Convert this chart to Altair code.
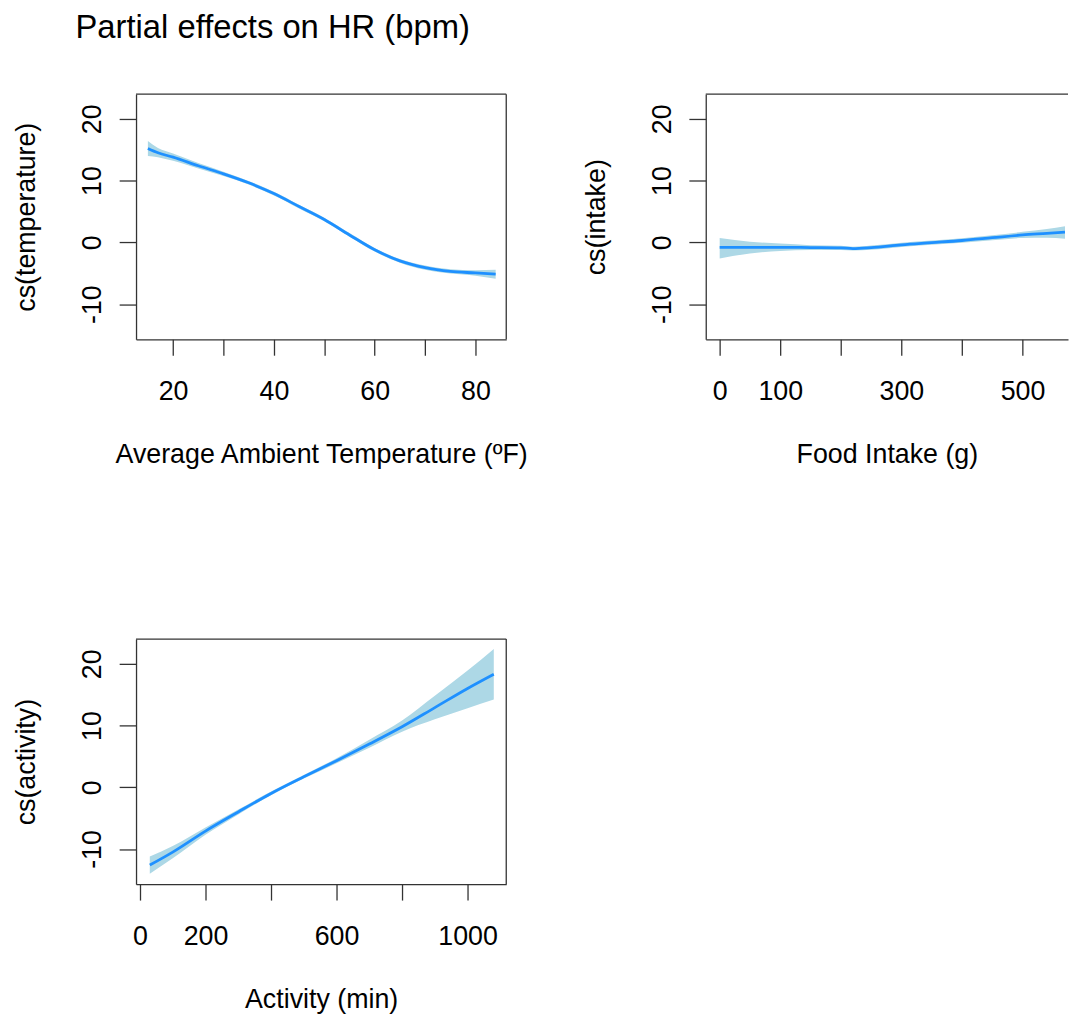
import altair as alt
import pandas as pd

# ---------------- data ----------------
temp_x   = [15, 17, 20, 25, 30, 35, 40, 45, 50, 55, 60, 65, 70, 75, 80, 84]
temp_fit = [15.2, 14.5, 13.8, 12.4, 11.1, 9.65, 7.9, 5.8, 3.7, 1.2, -1.2, -3.0, -4.1, -4.7, -4.95, -5.15]
temp_lo  = [14.0, 13.8, 13.2, 11.95, 10.75, 9.35, 7.6, 5.5, 3.4, 0.9, -1.5, -3.3, -4.45, -5.05, -5.4, -5.9]
temp_hi  = [16.4, 15.3, 14.4, 12.85, 11.45, 9.95, 8.2, 6.1, 4.0, 1.5, -0.9, -2.7, -3.75, -4.35, -4.5, -4.45]

intake_x   = [0, 50, 100, 150, 200, 220, 250, 300, 350, 400, 450, 500, 540, 570]
intake_fit = [-0.8, -0.8, -0.8, -0.85, -0.9, -1.0, -0.85, -0.4, -0.05, 0.3, 0.75, 1.2, 1.45, 1.65]
intake_lo  = [-2.6, -1.8, -1.4, -1.25, -1.25, -1.3, -1.2, -0.75, -0.4, -0.05, 0.35, 0.7, 0.75, 0.6]
intake_hi  = [0.7, 0.1, -0.2, -0.45, -0.55, -0.7, -0.5, -0.05, 0.3, 0.65, 1.15, 1.7, 2.15, 2.6]

act_x   = [30, 100, 200, 300, 400, 500, 600, 700, 800, 900, 1000, 1080]
act_fit = [-12.6, -10.5, -7.1, -4.0, -1.0, 1.7, 4.3, 7.0, 9.8, 12.9, 16.0, 18.3]
act_lo  = [-14.0, -11.5, -7.7, -4.4, -1.3, 1.4, 3.9, 6.4, 9.0, 11.0, 12.8, 14.2]
act_hi  = [-11.2, -9.5, -6.5, -3.6, -0.7, 2.0, 4.7, 7.7, 10.8, 14.8, 18.9, 22.4]

temp_ticks, temp_labels = [20, 30, 40, 50, 60, 70, 80], [20, 40, 60, 80]
intake_ticks, intake_labels = [0, 100, 200, 300, 400, 500], [0, 100, 300, 500]
act_ticks, act_labels = [0, 200, 400, 600, 800, 1000], [0, 200, 600, 1000]
y_ticks = [-10, 0, 10, 20]

FONT = "Liberation Sans"
FS = 27
BOX = "#333333"
H = 247


def panel(xs, fit, lo, hi, xdom, ticks, labels, xtitle, ytitle, W, right_border=True):
    df = pd.DataFrame({"x": xs, "fit": fit, "lo": lo, "hi": hi})
    lab_expr = "indexof([" + ",".join(str(v) for v in labels) + "], datum.value) >= 0 ? '' + datum.value : ''"
    xenc = alt.X(
        "x:Q",
        scale=alt.Scale(domain=xdom, nice=False, zero=False),
        axis=alt.Axis(
            values=ticks, labelExpr=lab_expr, title=xtitle, grid=False,
            domain=True, domainColor=BOX, domainWidth=1.3,
            tickColor=BOX, tickWidth=1.3, tickSize=16,
            labelFont=FONT, labelFontSize=FS, labelColor="black",
            labelBaseline="alphabetic", labelPadding=44.5,
            labelOverlap=False, labelFlush=False,
            titleFont=FONT, titleFontSize=FS, titleFontWeight="normal", titleColor="black",
            titleBaseline="alphabetic", titleAlign="center", titleX=W / 2, titleY=124.5,
        ),
    )
    yscale = alt.Scale(domain=[-15.7, 24.0], nice=False, zero=False)
    yaxis = alt.Axis(
        values=y_ticks, labelExpr="'' + datum.value", title=ytitle, grid=False,
        domain=True, domainColor=BOX, domainWidth=1.3,
        tickColor=BOX, tickWidth=1.3, tickSize=17,
        labelFont=FONT, labelFontSize=FS, labelColor="black",
        labelAngle=270, labelAlign="center", labelBaseline="alphabetic", labelPadding=19,
        labelOverlap=False, labelFlush=False,
        titleFont=FONT, titleFontSize=FS, titleFontWeight="normal", titleColor="black",
        titleAngle=270, titleAlign="center", titleBaseline="alphabetic",
        titleX=-102, titleY=H / 2,
    )
    base = alt.Chart(df)
    band = base.mark_area(color="#ADD8E6", opacity=1, interpolate="monotone", clip=True).encode(
        x=xenc, y=alt.Y("lo:Q", scale=yscale, axis=yaxis), y2="hi:Q"
    )
    line = base.mark_line(color="#1E90FF", strokeWidth=2.8, interpolate="monotone", clip=True).encode(
        x="x:Q", y="fit:Q"
    )
    one = alt.Data(values=[{"a": 1}])
    top = alt.Chart(one).mark_rule(color=BOX, strokeWidth=1.3).encode(
        x=alt.value(0), x2=alt.value(W), y=alt.value(0)
    )
    layers = [band, line, top]
    if right_border:
        right = alt.Chart(one).mark_rule(color=BOX, strokeWidth=1.3).encode(
            x=alt.value(W), y=alt.value(0), y2=alt.value(H)
        )
        layers.append(right)
    return alt.layer(*layers).properties(width=W, height=H)


p1 = panel(temp_x, temp_fit, temp_lo, temp_hi, [12.65, 86.1], temp_ticks, temp_labels,
           "Average Ambient Temperature (ºF)", "cs(temperature)", 373)
p2 = panel(intake_x, intake_fit, intake_lo, intake_hi, [-23, 575], intake_ticks, intake_labels,
           "Food Intake (g)", "cs(intake)", 365, right_border=False)
p3 = panel(act_x, act_fit, act_lo, act_hi, [-12, 1118], act_ticks, act_labels,
           "Activity (min)", "cs(activity)", 373)

chart = alt.concat(
    p1, p2, p3, columns=2, spacing={"row": 302, "column": 201}, bounds="flush"
).properties(
    title=alt.TitleParams(
        "Partial effects on HR (bpm)", anchor="start", frame="bounds", font=FONT, fontSize=33,
        fontWeight="normal", color="black", baseline="alphabetic", offset=23, dx=63,
    ),
    padding={"left": 5, "top": 0, "right": 0, "bottom": 0},
).configure_view(stroke=None)

chart.save("out.html", embed_options={"renderer": "svg", "actions": False})
